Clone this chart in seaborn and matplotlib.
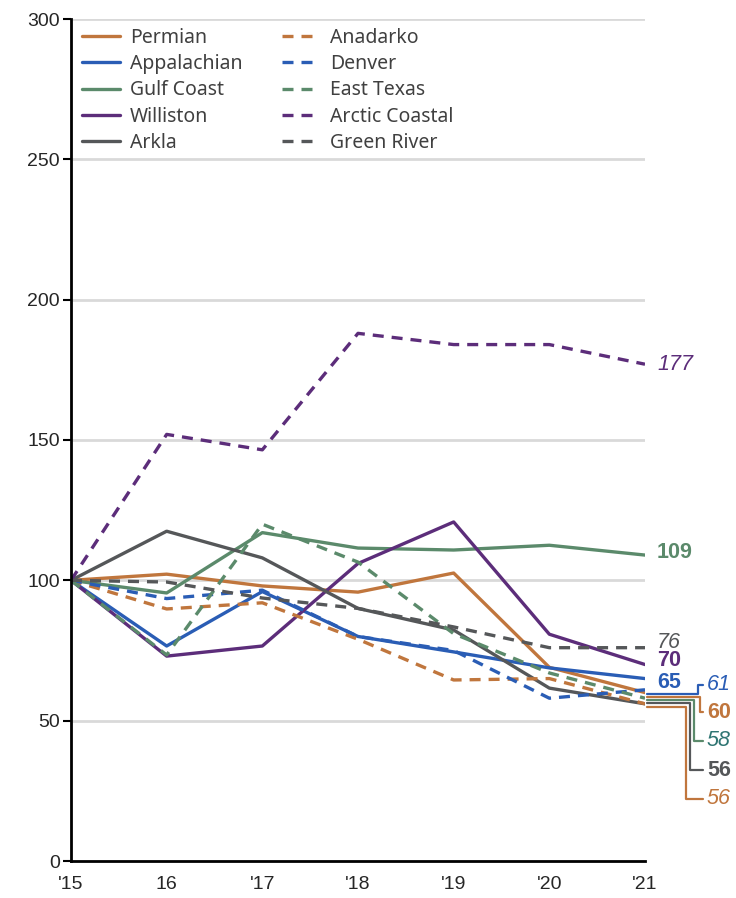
import matplotlib
matplotlib.use("Agg")
import matplotlib.pyplot as plt
import seaborn as sns
import pandas as pd

# years on the x axis
years = ["'15", "16", "'17", "'18", "'19", "'20", "'21"]

# index values (2015 = 100)
permian = [100, 102.2, 98, 95.8, 102.6, 69, 60]
appalachian = [100, 76.6, 96, 80, 74.5, 68.8, 65]
gulf_coast = [100, 95.5, 117, 111.5, 110.8, 112.5, 109]
williston = [100, 73, 76.6, 106, 120.8, 80.8, 70]
arkla = [100, 117.5, 108, 90, 82.3, 61.6, 56]
anadarko = [100, 89.8, 92, 79, 64.5, 65, 56]
denver = [100, 93.5, 96.5, 80, 75, 58, 61]
east_texas = [100, 73.4, 120, 106.5, 81, 67, 58]
arctic_coastal = [100, 152, 146.5, 188, 184, 184, 177]
green_river = [100, 99.4, 93.7, 90, 83.4, 76, 76]

solid_names = ["Permian", "Appalachian", "Gulf Coast", "Williston", "Arkla"]
dashed_names = ["Anadarko", "Denver", "East Texas", "Arctic Coastal", "Green River"]
solid_vals = [permian, appalachian, gulf_coast, williston, arkla]
dashed_vals = [anadarko, denver, east_texas, arctic_coastal, green_river]

# end labels shown at the right
end_labels = {"Permian": "60", "Appalachian": "65", "Gulf Coast": "109", "Williston": "70",
              "Arkla": "56", "Anadarko": "56", "Denver": "61", "East Texas": "58",
              "Arctic Coastal": "177", "Green River": "76"}

colors = ["#C0763D", "#2A5DB5", "#5B8A6B", "#5C2D7A", "#555759"]
label_colors = {"East Texas": "#2F7572"}

rows = []
for names, vals, kind in [(solid_names, solid_vals, "solid"), (dashed_names, dashed_vals, "dashed")]:
    for n, v in zip(names, vals):
        for i, val in enumerate(v):
            rows.append({"basin": n, "x": i, "value": val, "kind": kind})
df = pd.DataFrame(rows)

sns.set_style("white")
plt.rcParams["font.family"] = ["Liberation Sans", "DejaVu Sans"]

fig = plt.figure(figsize=(7.36, 8.98), dpi=100)
ax = fig.add_axes([71 / 736, 37 / 898, 574 / 736, 842 / 898])

for n, c in zip(solid_names, colors):
    sns.lineplot(data=df[df.basin == n], x="x", y="value", color=c, lw=2.4,
                 label=n, ax=ax, zorder=3)
for n, c in zip(dashed_names, colors):
    sns.lineplot(data=df[df.basin == n], x="x", y="value", color=c, lw=2.4,
                 label=n, ax=ax, zorder=3, linestyle=(0, (3.3, 2.4)))

ax.set_xlim(0, 6)
ax.set_ylim(0, 300)
ax.set_xticks(range(7))
ax.set_xticklabels(years)
ax.set_yticks(range(0, 301, 50))
ax.set_xlabel("")
ax.set_ylabel("")
for y in range(50, 301, 50):
    ax.axhline(y, color="#d9d9d9", lw=2, zorder=1)
for s in ["top", "right"]:
    ax.spines[s].set_visible(False)
for s in ["left", "bottom"]:
    ax.spines[s].set_color("black")
    ax.spines[s].set_linewidth(2)
    ax.spines[s].set_zorder(4)
ax.tick_params(axis="y", length=6, width=1.5, color="black", labelsize=14, pad=2, left=True)
ax.tick_params(axis="x", length=0, labelsize=14, pad=11)

def px2x(px):
    return (px - 71) / (574 / 6)

def px2y(py):
    return (861 - py) / (842 / 300)

# labels placed directly next to line ends
direct = {"Gulf Coast": 553, "Arctic Coastal": 364, "Green River": 642,
          "Williston": 661, "Appalachian": 682}
# labels moved down with leader lines: (line y, bend x, label y)
leaders = {"Denver": (694, 698, 685), "Permian": (697, 700, 712),
           "East Texas": (700, 694, 741), "Arkla": (703, 690, 770),
           "Anadarko": (707, 686, 799)}

for n, c in zip(solid_names + dashed_names, colors + colors):
    style = "italic" if n in dashed_names else "normal"
    weight = "normal" if n in dashed_names else "bold"
    tc = label_colors.get(n, c)
    if n in direct:
        ax.text(px2x(657), px2y(direct[n]), end_labels[n], color=tc, fontsize=15.5,
                fontstyle=style, fontweight=weight, va="center", ha="left", clip_on=False)
    else:
        ly, bx, ty = leaders[n]
        ax.plot([px2x(647), px2x(bx), px2x(bx), px2x(703)],
                [px2y(ly), px2y(ly), px2y(ty), px2y(ty)], color=c, lw=1.6, clip_on=False, zorder=2)
        ax.text(px2x(707), px2y(ty), end_labels[n], color=tc, fontsize=15.5,
                fontstyle=style, fontweight=weight, va="center", ha="left", clip_on=False)

handles, labels = ax.get_legend_handles_labels()
leg = ax.legend(handles, labels, ncol=2, loc="upper left", bbox_to_anchor=(11 / 574, 1 - 9 / 842),
                frameon=False, borderaxespad=0, borderpad=0, handlelength=1.96,
                handletextpad=0.52, columnspacing=2.0, labelspacing=0.32,
                prop={"family": ["Noto Sans", "DejaVu Sans"], "size": 14})
for t in leg.get_texts():
    t.set_color("#404040")

fig.savefig("out.png", dpi=100)
